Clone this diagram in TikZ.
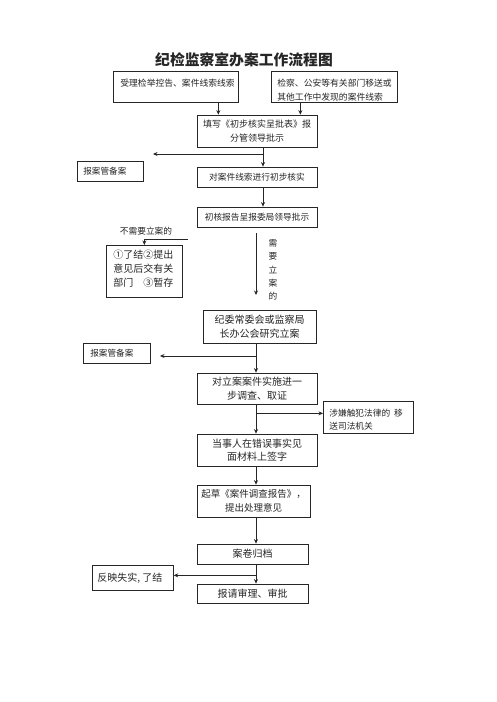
\documentclass[tikz,border=0pt]{standalone}
\usepackage{fontspec}
\newfontfamily\cjk{Noto Sans CJK SC}
\usetikzlibrary{arrows.meta}
\newcommand\myfs[2]{\fontsize{#1}{#2}\selectfont}
\begin{document}
\begin{tikzpicture}[x=1pt,y=-1pt,
  box/.style={draw=black!85, line width=0.7pt, inner sep=0pt, align=center, text=black!85},
  lbl/.style={inner sep=0pt, text=black!85},
  ln/.style={draw=black!85, line width=0.8pt},
  arr/.style={ln, -{Stealth[length=4.5pt,width=4pt]}}]
\fill[white] (0,0) rectangle (496,702);
% title
\node[lbl, font={\cjk\bfseries\myfs{14.8}{16}}] (title) at (244,60) {纪检监察室办案工作流程图};
% boxes
\node[box, anchor=north west] (b1) at (113,71)
  {\parbox[c][31pt][t]{125pt}{\cjk\myfs{8.8}{13.5}\hspace*{7pt}\rule{0pt}{15.5pt}受理检举控告、案件线索线索}};
\node[box, anchor=north west] (b2) at (271,71)
  {\parbox[c][31pt][t]{126pt}{\cjk\myfs{8.8}{14}\leftskip=6pt\rule{0pt}{15.5pt}检察、公安等有关部门移送或\\其他工作中发现的案件线索}};
\node[box, minimum width=120pt, minimum height=32pt, font={\cjk\myfs{9}{13.5}}] (b3) at (257,131)
  {填写《初步核实呈批表》报\\分管领导批示};
\node[box, anchor=north west] (bA) at (77,161)
  {\parbox[c][20pt][c]{66pt}{\cjk\myfs{8.6}{13.5}\hspace*{6pt}报案管备案}};
\node[box, minimum width=120pt, minimum height=20pt, font={\cjk\myfs{8.7}{13.5}}] (b4) at (257,177)
  {对案件线索进行初步核实};
\node[box, minimum width=120pt, minimum height=20pt, font={\cjk\myfs{8.7}{13.5}}] (b5) at (257,217)
  {初核报告呈报委局领导批示};
\node[lbl, font={\cjk\myfs{8.7}{13.5}}] (no) at (146,231) {不需要立案的};
\node[box, anchor=north west] (bB) at (106,245)
  {\parbox[c][52pt][t]{76pt}{\cjk\myfs{10}{14}\leftskip=7pt\rule{0pt}{13pt}①了结②提出\\意见后交有关\\部门\hspace{10pt}③暂存}};
\node[lbl, align=center, font={\cjk\myfs{8.7}{13.3}}] (need) at (273,270) {需\\要\\立\\案\\的};
\node[box, minimum width=113pt, minimum height=33pt, font={\cjk\myfs{10}{13.5}}] (b6) at (259.5,326.5)
  {纪委常委会或监察局\\长办公会研究立案};
\node[box, anchor=north west] (bC) at (83,343)
  {\parbox[c][20pt][c]{67pt}{\cjk\myfs{8.6}{13.5}\hspace*{7pt}报案管备案}};
\node[box, minimum width=120pt, minimum height=31pt, font={\cjk\myfs{10}{13.5}}] (b7) at (257,388.5)
  {对立案案件实施进一\\步调查、取证};
\node[box, anchor=north west] (bD) at (323,401)
  {\parbox[c][32pt][t]{90pt}{\cjk\myfs{8.7}{13}\leftskip=6pt\rule{0pt}{15.5pt}涉嫌触犯法律的\hspace{4pt}移\\送司法机关}};
\node[box, minimum width=120pt, minimum height=32pt, font={\cjk\myfs{10}{13.5}}] (b8) at (257,450)
  {当事人在错误事实见\\面材料上签字};
\node[box, minimum width=113pt, minimum height=32pt, font={\cjk\myfs{9.5}{13.5}}] (b9) at (253.5,501)
  {起草《案件调查报告》，\\提出处理意见};
\node[box, minimum width=111pt, minimum height=20pt, font={\cjk\myfs{10}{13.5}}] (b10) at (252.5,554)
  {案卷归档};
\node[box, anchor=north west] (bE) at (92,565)
  {\parbox[c][25pt][c]{81pt}{\cjk\myfs{10}{13.5}\hspace*{5pt}反映失实, 了结}};
\node[box, minimum width=111pt, minimum height=19pt, font={\cjk\myfs{10}{13.5}}] (b11) at (252.5,593.5)
  {报请审理、审批};
% connectors
\path ([xshift=42.5pt]b1.south) coordinate (p1);
\draw[arr] (p1) -- (p1 |- b3.north);
\path ([xshift=-34pt]b2.south) coordinate (p2);
\draw[arr] (p2) -- (p2 |- b3.north);
\path ([xshift=6pt]b3.south) coordinate (p3);
\draw[arr] (p3) -- (p3 |- b4.north);
\coordinate (e1) at (153,154);
\draw[arr] (p3 |- e1) -- (e1);
\path ([xshift=6pt]b4.south) coordinate (p4);
\draw[arr] (p4) -- (p4 |- b5.north);
\coordinate (s1) at (188,239);
\draw[arr] (s1) -| (bB.north);
\coordinate (v1) at (256,233);
\coordinate (v2) at (256,295);
\draw[arr] (v1) -- (v2);
\path ([xshift=-3.5pt]b6.south) coordinate (p6);
\draw[arr] (p6) -- (p6 |- b7.north);
\coordinate (e2) at (160,356);
\draw[arr] (p6 |- e2) -- (e2);
\path ([xshift=-1pt]b7.south) coordinate (p7);
\draw[arr] (p7) -- (p7 |- b8.north);
\path (p7) ++(0,9) coordinate (j7);
\draw[arr] (j7) -- (j7 -| bD.west);
\path ([xshift=-1pt]b8.south) coordinate (p8);
\draw[arr] (p8) -- (p8 |- b9.north);
\path ([xshift=2.5pt]b9.south) coordinate (p9);
\draw[arr] (p9) -- (p9 |- b10.north);
\path ([xshift=3.5pt]b10.south) coordinate (p10);
\draw[arr] (p10) -- (p10 |- b11.north);
\path (p10) ++(0,11) coordinate (j10);
\draw[arr] (j10) -- (j10 -| bE.east);
\end{tikzpicture}
\end{document}
